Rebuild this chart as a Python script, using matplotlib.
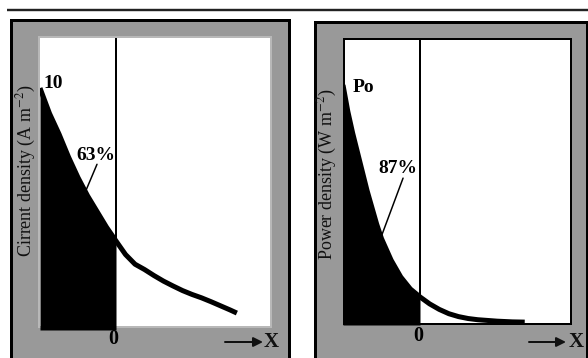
import matplotlib
matplotlib.use("Agg")
import matplotlib.pyplot as plt
from matplotlib.patches import Rectangle

# ---------------- data ----------------
# x in units of decay length, x = 0 at the vertical line
cur_x = [-1.0, -0.875, -0.75, -0.625, -0.5, -0.375, -0.25, -0.125, 0.0,
         0.125, 0.25, 0.375, 0.5, 0.625, 0.75, 0.875, 1.0, 1.125, 1.25,
         1.375, 1.5, 1.59]
cur_y = [10.0, 8.95, 8.1, 7.15, 6.3, 5.55, 4.9, 4.25, 3.68,
         3.12, 2.72, 2.5, 2.25, 2.02, 1.82, 1.63, 1.47, 1.33, 1.17,
         1.0, 0.83, 0.70]

pow_x = [-1.0, -0.9375, -0.875, -0.8125, -0.75, -0.6875, -0.625, -0.5625,
         -0.5, -0.375, -0.25, -0.125, 0.0, 0.125, 0.25, 0.375, 0.5, 0.625,
         0.75, 1.0, 1.2, 1.36]
pow_y = [1.0, 0.89, 0.80, 0.72, 0.64, 0.56, 0.49, 0.42,
         0.36, 0.27, 0.20, 0.15, 0.117, 0.088, 0.065, 0.047, 0.035, 0.027,
         0.022, 0.016, 0.013, 0.012]

cur_label = "Cirrent density (A m$^{-2}$)"
pow_label = "Power density (W m$^{-2}$)"
cur_top = "10"
pow_top = "Po"
cur_pct = "63%"
pow_pct = "87%"
zero_label = "0"
x_label = "X"

# ---------------- figure ----------------
W, H = 588, 358
plt.rcParams['font.family'] = ['Liberation Serif', 'DejaVu Serif']
plt.rcParams['mathtext.fontset'] = 'stix'
fig = plt.figure(figsize=(W / 100, H / 100), dpi=100)
PX = 0.72  # points per pixel


def box(x0, y0, x1, y1):
    return [x0 / W, 1 - y1 / H, (x1 - x0) / W, (y1 - y0) / H]


bg = fig.add_axes([0, 0, 1, 1])
bg.set_xlim(0, W)
bg.set_ylim(H, 0)
bg.axis('off')

gray = '#999999'
ink = '#111111'
bg.plot([7, W], [9.5, 9.5], color='#222222', lw=2.4 * PX, solid_capstyle='butt')
bg.add_patch(Rectangle((11, 20), 288.5 - 11, 400 - 20, fc=gray, ec='black', lw=3 * PX))
bg.add_patch(Rectangle((315, 21.5), 586.5 - 315, 400 - 21.5, fc=gray, ec='black', lw=3 * PX))
bg.add_patch(Rectangle((39, 37), 271 - 39, 327 - 37, fc='white', ec='#b8b8b8', lw=2 * PX))
bg.add_patch(Rectangle((344, 39), 571 - 344, 324 - 39, fc='white', ec='black', lw=2 * PX))

# arrows -> X
for (xa0, xa1, xt, yy) in [(225, 263, 271, 342), (529, 566, 576, 342)]:
    bg.annotate('', xy=(xa1, yy), xytext=(xa0, yy),
                arrowprops=dict(arrowstyle='-|>', color=ink, lw=2 * PX,
                                mutation_scale=14, shrinkA=0, shrinkB=0))
    bg.text(xt, yy, x_label, ha='center', va='center', fontsize=15,
            fontweight='bold', color=ink)

# y labels
fig.text(26 / W, 1 - 171 / H, cur_label, rotation=90, ha='center', va='center',
         fontsize=13, color=ink)
fig.text(327 / W, 1 - 174 / H, pow_label, rotation=90, ha='center', va='center',
         fontsize=13, color=ink)

# ---------------- left panel ----------------
axL = fig.add_axes(box(40, 38, 270, 330))
axL.patch.set_alpha(0)
axL.axis('off')
axL.set_xlim(-1, 2.026)
axL.set_ylim(0, 12.07)
xs = [x for x in cur_x if x <= 0]
ys = cur_y[:len(xs)]
axL.fill_between(xs, 0, ys, color='black', lw=0)
axL.plot(cur_x, cur_y, color='black', lw=5 * PX, solid_capstyle='butt',
         solid_joinstyle='round')
axL.plot([0, 0], [cur_y[len(xs) - 1], 12.07], color='black', lw=2 * PX)
axL.text(-0.96, 10.0, cur_top, ha='left', va='baseline', fontsize=14, fontweight='bold')
axL.text(-0.27, 7.23, cur_pct, ha='center', va='center', fontsize=14, fontweight='bold')
axL.annotate('', xy=(-0.41, 5.66), xytext=(-0.25, 6.85),
             arrowprops=dict(arrowstyle='-', color='black', lw=1.5 * PX, shrinkA=0, shrinkB=0))
axL.text(-0.04, -0.37, zero_label, ha='center', va='center', fontsize=14.5,
         fontweight='bold', clip_on=False)

# ---------------- right panel ----------------
axR = fig.add_axes(box(343, 40, 571, 325))
axR.patch.set_alpha(0)
axR.axis('off')
axR.set_xlim(-1, 1.961)
axR.set_ylim(0, 1.1875)
xs = [x for x in pow_x if x <= 0]
ys = pow_y[:len(xs)]
axR.fill_between(xs, 0, ys, color='black', lw=0)
axR.plot(pow_x, pow_y, color='black', lw=5 * PX, solid_capstyle='butt',
         solid_joinstyle='round')
axR.plot([0, 0], [pow_y[len(xs) - 1], 1.1875], color='black', lw=2 * PX)
axR.text(-0.87, 0.971, pow_top, ha='left', va='baseline', fontsize=14, fontweight='bold')
axR.text(-0.286, 0.654, pow_pct, ha='center', va='center', fontsize=14, fontweight='bold')
axR.annotate('', xy=(-0.52, 0.354), xytext=(-0.22, 0.612),
             arrowprops=dict(arrowstyle='-', color='black', lw=1.5 * PX, shrinkA=0, shrinkB=0))
axR.text(-0.02, -0.044, zero_label, ha='center', va='center', fontsize=14.5,
         fontweight='bold', clip_on=False)

fig.savefig('out.png', dpi=100)
